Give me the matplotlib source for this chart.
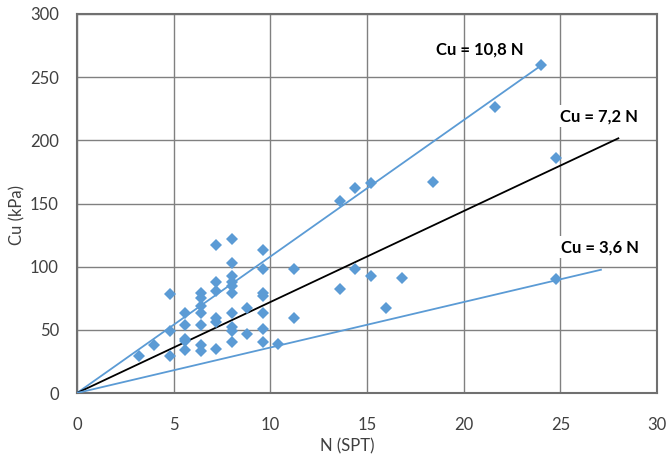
import matplotlib
matplotlib.use("Agg")
import matplotlib.pyplot as plt

# N (SPT) vs Cu (kPa)
n_spt = [3.2, 4.0, 4.8, 4.8, 4.8,
         5.6, 5.6, 5.6, 5.6, 5.6,
         6.4, 6.4, 6.4, 6.4, 6.4, 6.4, 6.4,
         7.2, 7.2, 7.2, 7.2, 7.2, 7.2,
         8.0, 8.0, 8.0, 8.0, 8.0, 8.0, 8.0, 8.0, 8.0, 8.0,
         8.8, 8.8,
         9.6, 9.6, 9.6, 9.6, 9.6, 9.6, 9.6,
         10.4, 11.2, 11.2, 13.6, 13.6, 14.4, 14.4, 15.2, 15.2,
         16.0, 16.8, 18.4, 21.6, 24.0, 24.8, 24.8]
cu = [29, 38, 78, 49, 29,
      63, 54, 43, 41, 34,
      79, 75, 69, 63, 54, 38, 33,
      117, 88, 81, 59, 56, 35,
      122, 103, 93, 88, 85, 79, 63, 52, 49, 40,
      67, 47,
      113, 98, 79, 77, 63, 51, 40,
      39, 98, 59, 152, 82, 162, 98, 166, 93,
      67, 91, 167, 226, 260, 186, 90]

# correlation lines Cu = k * N
factors = [10.8, 7.2, 3.6]
line_end = [24.0, 28.0, 27.1]
line_colors = ['#5b9bd5', 'black', '#5b9bd5']
labels = ['Cu = 10,8 N', 'Cu = 7,2 N', 'Cu = 3,6 N']
label_pos = [(20.85, 271.5), (27.0, 219), (27.05, 115.5)]
label_box = [False, True, True]

fig = plt.figure(figsize=(6.68, 4.59), dpi=100)
ax = fig.add_axes([77/668, 66/459, 580/668, 379/459])

for k, xe, c in zip(factors, line_end, line_colors):
    ax.plot([0, xe], [0, k*xe], color=c, lw=1.3, zorder=3)

ax.plot(n_spt, cu, linestyle='none', marker='D', ms=5.8, color='#5b9bd5',
        markeredgewidth=0, zorder=4)

for txt, (tx, ty), box in zip(labels, label_pos, label_box):
    bb = dict(facecolor='white', edgecolor='none', pad=2) if box else None
    ax.text(tx, ty, txt, ha='center', va='center', fontsize=12,
            fontweight='bold', family='Lato', color='black', bbox=bb, zorder=2)

ax.set_xlim(0, 30)
ax.set_ylim(0, 300)
ax.set_xticks(range(0, 31, 5))
ax.set_yticks(range(0, 301, 50))
ax.grid(True, color='#808080', lw=1)
ax.set_axisbelow(True)
for s in ax.spines.values():
    s.set_color('#707070')
    s.set_linewidth(1.5)
ax.tick_params(length=0, labelsize=12, labelcolor='#404040')
ax.tick_params(axis='y', pad=13)
ax.tick_params(axis='x', pad=17)
for lab in ax.get_xticklabels() + ax.get_yticklabels():
    lab.set_family('Lato')

fig.text(347/668, 1 - 446/459, 'N (SPT)', ha='center', va='center',
         fontsize=12, family='Lato', color='#404040')
fig.text(17/668, 1 - 215/459, 'Cu (kPa)', ha='center', va='center',
         rotation=90, fontsize=12, family='Lato', color='#404040')

fig.savefig('out.png', dpi=100)
